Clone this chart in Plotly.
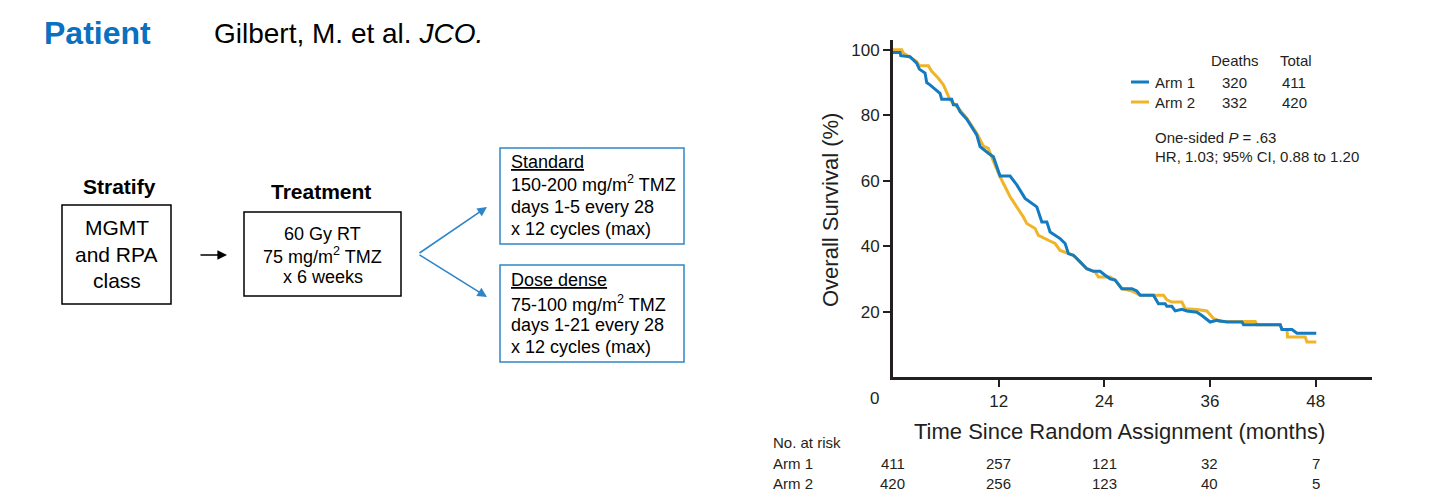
import plotly.graph_objects as go

# ---------------- data ----------------
months_arm1 = [0, 0.8, 0.88, 1.93, 2.69, 2.99, 3.64, 3.83, 4.2, 5.34, 5.53, 6.67, 6.85, 7.24, 7.61,
               8.38, 9.51, 9.89, 10.83, 11.4, 12.16, 13.3, 14.06, 15.0, 16.33, 16.7, 16.9, 17.47,
               17.84, 18.98, 19.55, 19.92, 20.49, 21.25, 22.01, 22.76, 23.52, 24.09, 24.66, 25.23,
               25.99, 27.13, 27.69, 28.07, 29.58, 30.15, 30.91, 31.1, 31.67, 32.05, 32.81, 33.38,
               34.51, 35.08, 35.65, 36.02, 36.78, 37.92, 39.63, 39.81, 43.98, 44.17, 45.31, 45.88, 48.07]
surv_arm1 = [99.2, 99.2, 98.2, 97.9, 95.9, 94.1, 92.9, 90.0, 89.3, 86.7, 84.9, 84.9, 83.2, 83.2, 81.1,
             78.8, 74.0, 70.4, 68.4, 67.3, 61.4, 61.4, 58.7, 54.6, 52.0, 48.9, 47.4, 47.4,
             44.3, 42.3, 40.8, 37.7, 37.2, 35.2, 33.1, 32.3, 32.3, 31.1, 30.0, 29.6,
             27.0, 27.0, 26.3, 25.0, 25.0, 22.4, 22.4, 21.6, 21.6, 20.2, 20.7, 20.2,
             19.8, 18.8, 17.5, 16.8, 17.3, 16.8, 16.8, 16.0, 16.0, 14.5, 14.5, 13.4, 13.4]

months_arm2 = [0, 0.99, 1.17, 2.13, 2.69, 2.99, 4.01, 4.4, 5.15, 5.72, 6.1, 6.48, 7.61, 8.38, 9.51,
               10.26, 10.83, 11.02, 12.16, 13.3, 14.81, 15.19, 16.14, 16.51, 17.65, 18.41, 18.98,
               19.92, 20.49, 21.25, 22.01, 22.95, 23.33, 24.66, 25.23, 25.99, 27.13, 28.07, 30.72,
               31.1, 31.67, 32.81, 33.18, 34.51, 35.65, 36.4, 37.16, 41.14, 41.33, 43.98, 44.17,
               44.74, 44.81, 46.82, 47.01, 48.07]
surv_arm2 = [100, 100, 99.0, 97.5, 96.4, 95.1, 95.1, 93.4, 91.3, 89.3, 87.2, 84.7, 81.6, 79.1, 74.5,
             70.6, 69.9, 68.4, 61.2, 55.1, 48.9, 46.9, 45.4, 43.3, 41.8, 40.8, 38.7,
             37.7, 37.2, 35.2, 33.1, 32.1, 30.6, 30.6, 29.6, 27.0, 26.3, 25.0, 25.0,
             23.6, 22.9, 22.9, 20.9, 20.6, 20.2, 17.9, 17.0, 17.0, 16.0, 16.0, 14.5,
             14.5, 12.2, 12.2, 10.7, 10.7]

arm_names = ["Arm 1", "Arm 2"]
deaths = [320, 332]
totals = [411, 420]

risk_months = [0, 12, 24, 36, 48]
risk_arm1 = [411, 257, 121, 32, 7]
risk_arm2 = [420, 256, 123, 40, 5]

x_ticks = [12, 24, 36, 48]
y_ticks = [20, 40, 60, 80, 100]

# ---------------- layout helpers ----------------
W, H = 1451, 498
def px(x):
    return x / W
def py(y):
    return 1 - y / H

BLUE = "#137bc1"
GOLD = "#f0b429"
INK = "#231f20"
BOXBLUE = "#2e86c8"
SANS = "Liberation Sans, Arial, sans-serif"
COND = "Liberation Sans, Arial, sans-serif"

fig = go.Figure()
fig.add_trace(go.Scatter(x=months_arm2, y=surv_arm2, mode="lines",
                         line=dict(color=GOLD, width=3), showlegend=False, hoverinfo="skip"))
fig.add_trace(go.Scatter(x=months_arm1, y=surv_arm1, mode="lines",
                         line=dict(color=BLUE, width=3), showlegend=False, hoverinfo="skip"))

ann = []
shapes = []

def text(x, y, s, size, anchor="center", color="black", bold=False, font=SANS, xref="paper", angle=0):
    ann.append(dict(x=x if xref != "paper" else px(x), y=py(y), xref=xref, yref="paper",
                    text=("<b>%s</b>" % s) if bold else s, showarrow=False,
                    xanchor=anchor, yanchor="middle", textangle=angle,
                    font=dict(size=size, color=color, family=font)))

def rect(x0, y0, x1, y1, color, width=1.5):
    shapes.append(dict(type="rect", xref="paper", yref="paper",
                       x0=px(x0), x1=px(x1), y0=py(y1), y1=py(y0),
                       line=dict(color=color, width=width), fillcolor="rgba(0,0,0,0)"))

def arrow(xh, yh, xt, yt, color):
    ann.append(dict(x=px(xh), y=py(yh), xref="paper", yref="paper", text="",
                    showarrow=True, ax=xt - xh, ay=yt - yh, axref="pixel", ayref="pixel",
                    arrowhead=2, arrowsize=1.2, arrowwidth=1.6, arrowcolor=color))

# ---------- header ----------
text(42, 33, "Patient", 32, anchor="left", color="#0a70c0", bold=True)
text(212, 33, "Gilbert, M. et al. <i>JCO.</i>", 28, anchor="left")

# ---------- schema ----------
text(119.5, 186, "Stratify", 21, bold=True)
rect(62, 205, 171, 304, "black")
text(116.5, 228, "MGMT", 21)
text(116.5, 254, "and RPA", 21)
text(116.5, 280, "class", 21)
arrow(227, 255, 199, 255, "black")

text(321, 191, "Treatment", 21, bold=True)
rect(244, 212, 401, 296, "black")
text(322.5, 234, "60 Gy RT", 18)
text(322.5, 256, "75 mg/m<sup>2</sup> TMZ", 18)
text(322.5, 277, "x 6 weeks", 18)

arrow(487, 207, 418, 254, BOXBLUE)
arrow(487, 297, 418, 254, BOXBLUE)

rect(500, 148, 684, 244, BOXBLUE)
text(509, 162, "<u>Standard</u>", 18, anchor="left")
text(509, 184, "150-200 mg/m<sup>2</sup> TMZ", 18, anchor="left")
text(509, 207, "days 1-5 every 28", 18, anchor="left")
text(509, 229, "x 12 cycles (max)", 18, anchor="left")

rect(500, 265, 684, 362, BOXBLUE)
text(509, 280, "<u>Dose dense</u>", 18, anchor="left")
text(509, 303, "75-100 mg/m<sup>2</sup> TMZ", 18, anchor="left")
text(509, 325, "days 1-21 every 28", 18, anchor="left")
text(509, 347, "x 12 cycles (max)", 18, anchor="left")

# ---------- KM chart annotations ----------
text(830, 210, "Overall Survival (%)", 22, color=INK, font=COND, angle=-90)
text(1119, 431, "Time Since Random Assignment (months)", 22, color=INK, font=COND)
ann.append(dict(x=0, y=py(398), xref="x", yref="paper", text="0", showarrow=False,
                xanchor="center", yanchor="middle", xshift=-18,
                font=dict(size=17, color=INK, family=COND)))

# legend block
text(1235, 61, "Deaths", 15, color=INK)
text(1296, 61, "Total", 15, color=INK)
for i, (nm, d, t, c, yy) in enumerate(zip(arm_names, deaths, totals, [BLUE, GOLD], [82, 102])):
    shapes.append(dict(type="line", xref="paper", yref="paper", x0=px(1131), x1=px(1149),
                       y0=py(yy), y1=py(yy), line=dict(color=c, width=3)))
    text(1153, yy, nm, 15, anchor="left", color=INK)
    text(1234, yy, str(d), 15, color=INK)
    text(1294, yy, str(t), 15, color=INK)
text(1153, 137, "One-sided <i>P</i> = .63", 15, anchor="left", color=INK)
text(1153, 157, "HR, 1.03; 95% CI, 0.88 to 1.20", 15, anchor="left", color=INK)

# number at risk
text(771, 442, "No. at risk", 15, anchor="left", color=INK)
for nm, row, yy in zip(arm_names, [risk_arm1, risk_arm2], [463, 483]):
    text(771, yy, nm, 15, anchor="left", color=INK)
    for m, n in zip(risk_months, row):
        text(m, yy, str(n), 15, color=INK, xref="x")

fig.update_layout(
    width=W, height=H, margin=dict(l=0, r=0, t=0, b=0),
    paper_bgcolor="white", plot_bgcolor="white",
    annotations=ann, shapes=shapes,
    xaxis=dict(domain=[px(893), px(1372)], range=[0, 54.4], showline=True, linewidth=3,
               linecolor=INK, ticks="outside", ticklen=7, tickwidth=1.5, tickcolor=INK,
               tickvals=x_ticks, ticktext=[str(v) for v in x_ticks], showgrid=False,
               zeroline=False, tickfont=dict(size=17, color=INK, family=COND)),
    yaxis=dict(domain=[py(377), py(40)], range=[0, 103], showline=True, linewidth=3,
               linecolor=INK, ticks="outside", ticklen=7, tickwidth=1.5, tickcolor=INK,
               tickvals=y_ticks, ticktext=[str(v) for v in y_ticks], showgrid=False,
               zeroline=False, tickfont=dict(size=17, color=INK, family=COND)),
)

fig.write_html("out.html", config={"displayModeBar": False},
               post_script="document.body.style.margin='0';document.body.style.overflow='hidden';")
